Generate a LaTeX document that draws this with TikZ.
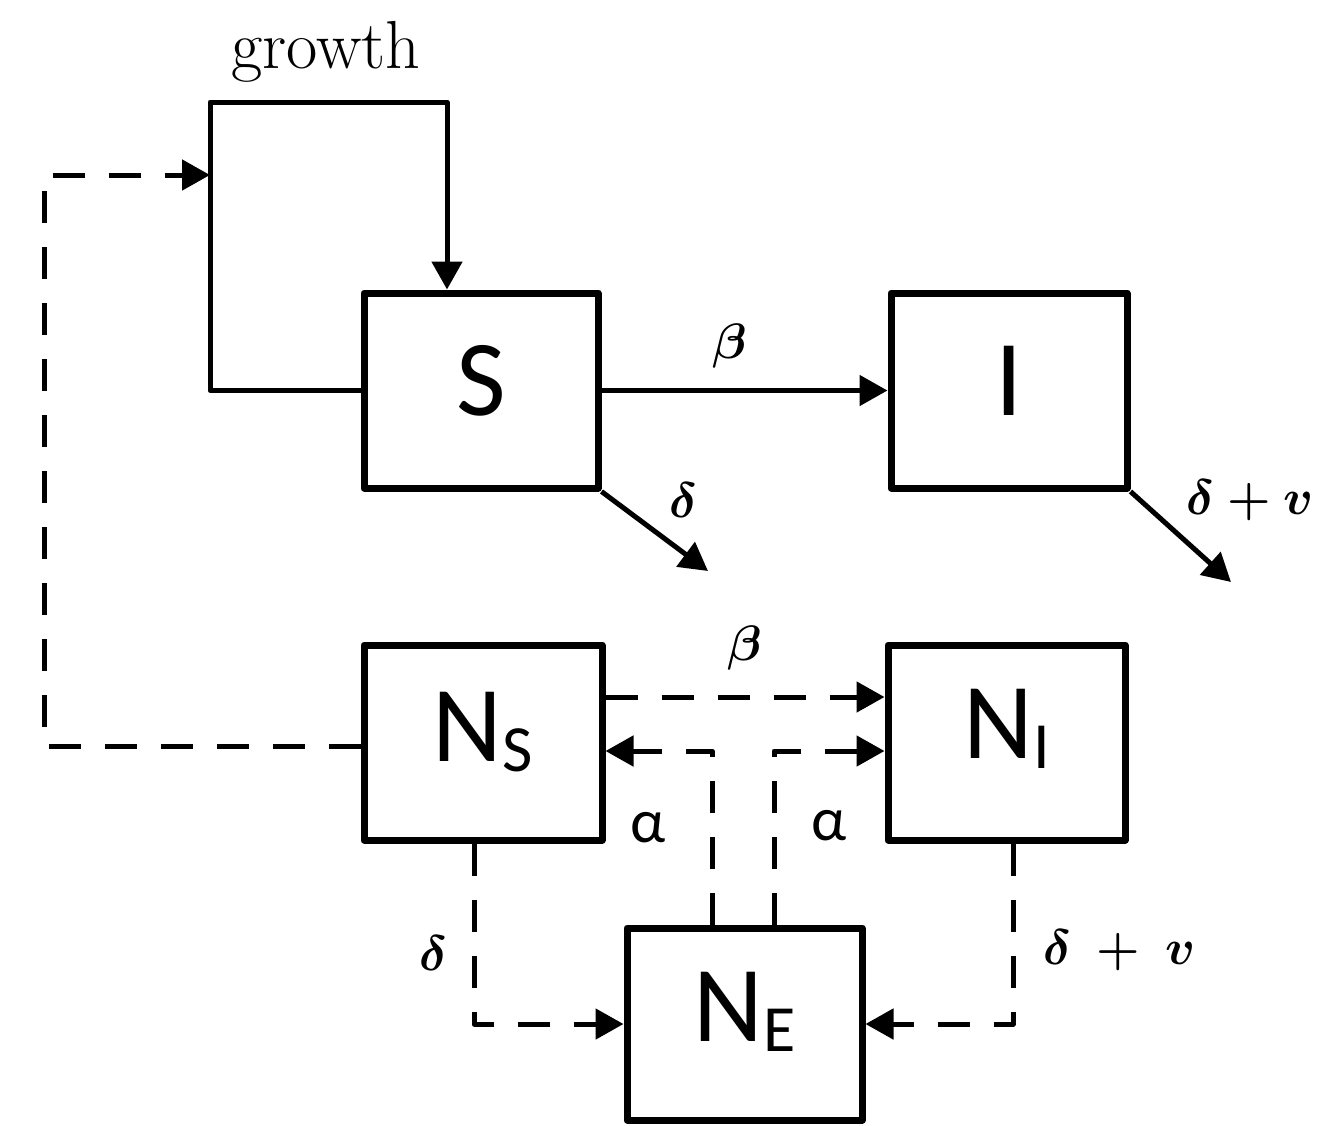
\documentclass[tikz,border=0pt]{standalone}
\usepackage{fontspec}
\newfontfamily\boxfont{Carlito}
\usetikzlibrary{arrows.meta}
\newcommand\boxsub[1]{\raisebox{-5pt}{\fontsize{33}{33}\selectfont #1}}
\newcommand\lift[2]{\raisebox{#1}[\height][\depth]{#2}}
\begin{document}
\begin{tikzpicture}[x=0.5pt,y=-0.5pt,
  box/.style={draw, line width=3.5pt, line join=round, minimum width=117pt, minimum height=97.5pt, inner sep=0pt, font=\boxfont\fontsize{54}{54}\selectfont},
  flow/.style={line width=2.5pt, line join=round, -{Triangle[length=14pt,width=15pt]}},
  dflow/.style={flow, dash pattern=on 16pt off 12pt},
  lbl/.style={inner sep=0pt, font=\fontsize{32}{32}\selectfont\boldmath},
  alab/.style={inner sep=0pt, font=\boxfont\fontsize{31}{31}\selectfont}]
\useasboundingbox (0,0) rectangle (1336,1125);

% boxes
\node[box] (S)  at (481,390.5) {\lift{5pt}{S}};
\node[box, minimum width=118pt] (I)  at (1009,390.5) {\lift{5pt}{I}};
\node[box, minimum width=119pt] (NS) at (483,742.5) {\lift{5pt}{N\boxsub{S}}};
\node[box, minimum width=118.5pt] (NI) at (1006.5,742.5) {\lift{7pt}{N\boxsub{I}}};
\node[box, minimum width=117.5pt, minimum height=96pt] (NE) at (744.5,1024) {\lift{6pt}{N\boxsub{E}}};

% helper coordinates
\coordinate (gTL) at (210,102);
\coordinate (gTR) at (447,102);
\coordinate (fb)  at (44,175);
\coordinate (dS)  at (708,571);
\coordinate (dI)  at (1231,582);
\coordinate (bN)  at (745,697);
\coordinate (aL)  at (712,751);
\coordinate (aR)  at (774,751);
\coordinate (dL)  at (474,0);
\coordinate (dR)  at (1013,0);

% growth loop
\draw[flow] (S.west) -- (S.west -| gTL) -- (gTL) -- (gTR) -- (gTR |- S.north);
\node[inner sep=0pt, font=\fontsize{34}{34}\selectfont] (growth) at (326,52) {growth};

% feedback from N_S
\draw[dflow] (NS.west |- 0,746) -- (fb |- 0,746) -- (fb) -- (fb -| gTL);

% S -> I
\draw[flow] (S.east) -- (I.west);
\node[lbl] (beta1) at (730,346) {$\beta$};

% deaths
\draw[flow] (S.south east) -- (dS);
\node[lbl] (delta1) at (683,500) {$\delta$};
\draw[flow] (I.south east) -- (dI);
\node[lbl, anchor=west, font=\fontsize{30}{30}\selectfont\boldmath] (dv1) at (1186,500) {$\delta+v$};

% N_S -> N_I
\draw[dflow] (bN -| NS.east) -- (bN -| NI.west);
\node[lbl] (beta2) at (745,648) {$\beta$};

% N_E -> N_S and N_I
\draw[dflow] (aL |- NE.north) -- (aL) -- (aL -| NS.east);
\draw[dflow] (aR |- NE.north) -- (aR) -- (aR -| NI.west);
\node[alab] (al1) at (648,828) {α};
\node[alab] (al2) at (829,826) {α};

% to N_E
\draw[dflow] (dL |- NS.south) -- (dL |- NE.west) -- (NE.west);
\node[lbl] (delta2) at (433,953) {$\delta$};
\draw[dflow] (dR |- NI.south) -- (dR |- NE.east) -- (NE.east);
\node[lbl, anchor=west] (dv2) at (1043,950) {$\delta\:+\:v$};
\end{tikzpicture}
\end{document}
